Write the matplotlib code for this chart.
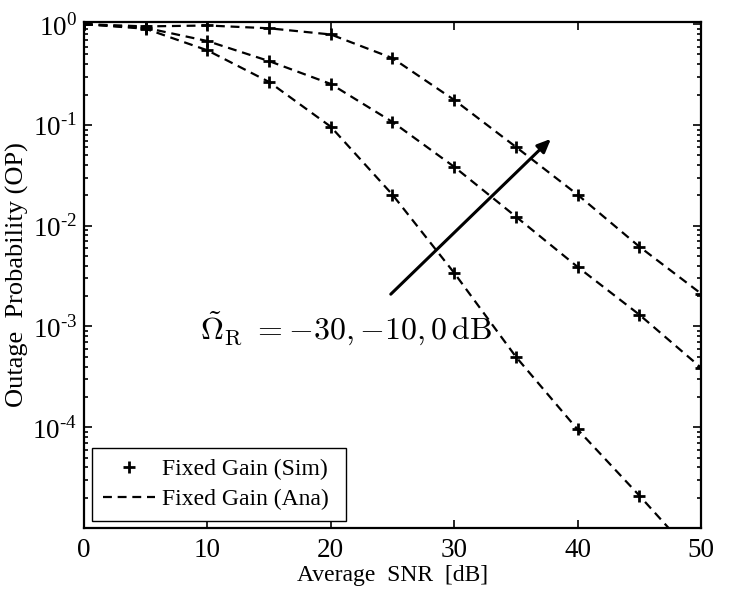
import numpy as np
import matplotlib
matplotlib.use("Agg")
import matplotlib.pyplot as plt
from matplotlib.ticker import LogLocator, NullFormatter, FixedLocator

plt.rcParams["font.family"] = ["Liberation Serif", "DejaVu Serif"]
plt.rcParams["mathtext.fontset"] = "custom"
plt.rcParams["mathtext.rm"] = "Liberation Serif"

snr = [0, 5, 10, 15, 20, 25, 30, 35, 40, 45, 50]
# outage probability for Omega_R = 0, -10, -30 dB (top to bottom)
op_0db = [1.0, 0.95, 0.97, 0.91, 0.79, 0.46, 0.177, 0.0605, 0.0203, 0.0062, 0.00212]
op_m10db = [1.0, 0.92, 0.68, 0.43, 0.255, 0.107, 0.0384, 0.0123, 0.0039, 0.00131, 0.00039]
op_m30db = [1.0, 0.90, 0.55, 0.267, 0.096, 0.0203, 0.0034, 5.0e-4, 9.5e-5, 2.1e-5, 4.4e-6]
curves = [op_0db, op_m10db, op_m30db]

DASH = (0, (4, 2.6))

fig = plt.figure(figsize=(7.29, 5.97), dpi=100)
ax = fig.add_axes([0.1152, 0.1156, 0.8464, 0.8475])

for op in curves:
    ax.semilogy(snr, op, color="black", linestyle=DASH, linewidth=1.6)
    ax.semilogy(snr, op, color="black", linestyle="none", marker="+",
                markersize=9, markeredgewidth=2)

ax.set_xlim(0, 50)
ax.set_ylim(1e-5, 1.05)
ax.xaxis.set_major_locator(FixedLocator([0, 10, 20, 30, 40, 50]))
ax.yaxis.set_major_locator(FixedLocator([1e-4, 1e-3, 1e-2, 1e-1, 1e0]))
ax.yaxis.set_minor_locator(LogLocator(base=10, subs=np.arange(2, 10)))
ax.yaxis.set_minor_formatter(NullFormatter())
ax.set_yticklabels([r"10$^{\text{-4}}$", r"10$^{\text{-3}}$", r"10$^{\text{-2}}$",
                    r"10$^{\text{-1}}$", r"10$^{\text{0}}$"])

ax.tick_params(which="both", direction="in", top=True, right=True,
               labelsize=19.5, width=1.2)
ax.tick_params(which="major", length=6)
ax.tick_params(which="minor", length=3)
ax.tick_params(axis="x", pad=7)
ax.tick_params(axis="y", pad=5)
for s in ax.spines.values():
    s.set_linewidth(1.6)

ax.set_xlabel("Average  SNR  [dB]", fontsize=17, labelpad=2)
ax.set_ylabel("Outage  Probability (OP)", fontsize=19, labelpad=2)

# arrow showing increasing Omega_R
ax.annotate("", xy=(38.0, 0.076), xytext=(24.7, 2.0e-3),
            arrowprops=dict(arrowstyle="-|>,head_length=0.8,head_width=0.35",
                            color="black", lw=2.2))
ax.text(9.4, 9.5e-4, r"$\tilde{\Omega}_{\rm R}\ = {-30},{-10},0\,{\rm dB}$",
        fontsize=23, math_fontfamily="cm", va="center", ha="left")

h_sim, = ax.plot([], [], color="black", linestyle="none", marker="+",
                 markersize=9, markeredgewidth=2)
h_ana, = ax.plot([], [], color="black", linestyle=DASH, linewidth=1.6)
leg = ax.legend([h_sim, h_ana], ["Fixed Gain (Sim)", "Fixed Gain (Ana)"],
                loc="lower left", bbox_to_anchor=(0.013, 0.014, 0.412, 0.15),
                mode="expand", fontsize=17, fancybox=False, edgecolor="black",
                framealpha=1, borderaxespad=0, handlelength=2.2,
                handletextpad=0.3, borderpad=0.45, labelspacing=0.35)
leg.get_frame().set_linewidth(1.0)

fig.savefig("out.png", dpi=100)
